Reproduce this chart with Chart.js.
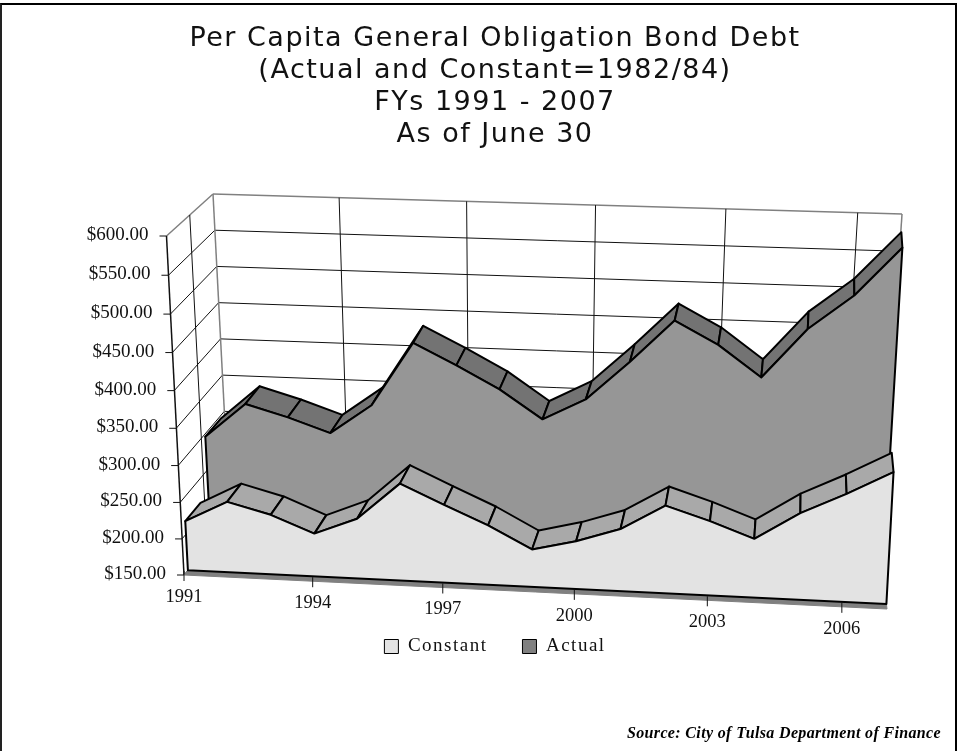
<!DOCTYPE html>
<html>
<head>
<meta charset="utf-8">
<title>Per Capita General Obligation Bond Debt</title>
<style>
    html, body { margin: 0; padding: 0; background: #fff; }
    #frame { position: absolute; left: 0; top: 3px; width: 953px; height: 746px; border-top: 2px solid #000; border-left: 2px solid #222; border-right: 2px solid #000; }
    canvas { position: absolute; left: 0; top: 0; }
</style>
<script src="https://cdn.jsdelivr.net/npm/chart.js@4"></script>
</head>
<body>
<div id="frame"></div>
<canvas id="chart" width="958" height="751"></canvas>
<script>
const titleLines = ['Per Capita General Obligation Bond Debt', '(Actual and Constant=1982/84)', 'FYs 1991 - 2007', 'As of June 30'];
const sourceNote = 'Source: City of Tulsa Department of Finance';

const years = ['1991', '1992', '1993', '1994', '1995', '1996', '1997', '1998', '1999', '2000', '2001', '2002', '2003', '2004', '2005', '2006', '2007'];
const constantValues = [218, 247, 232, 209, 232, 282, 256, 231, 201, 215, 234, 268, 250, 229, 266, 294, 325];
const actualValues = [296, 343, 327, 308, 348, 434, 406, 376, 338, 367, 419, 476, 446, 405, 471, 517, 581];

const valueTicks = [150, 200, 250, 300, 350, 400, 450, 500, 550, 600];
const yearTicks = ['1991', '1994', '1997', '2000', '2003', '2006'];

// Screen corners of the 3-D box, [x, y]. Depth 0 is the front, depth 1 the back wall
const BOX = {
    frontLeftBottom: [184, 575], frontLeftTop: [166.5, 236],
    frontRightBottom: [887, 609], frontRightTop: [905, 260],
    backLeftBottom: [230, 520], backLeftTop: [213, 194],
    backRightBottom: [880, 549], backRightTop: [902, 214]
};
const PERSPECTIVE = 1.03; // right side is nearer to the viewer
const FRONT_BEND = 16; // value spacing on the front edge is wider at the top

// Depth band of each series, front to back
const SERIES_DEPTH = [[0.085, 0.415], [0.585, 0.915]];
const SERIES_COLORS = [
    { face: '#e3e3e3', top: '#a9a9a9' },
    { face: '#969696', top: '#737373' }
];

const mix = (a, b, k) => [a[0] + (b[0] - a[0]) * k, a[1] + (b[1] - a[1]) * k];

function project(chart, px, py, depth) {
    const area = chart.chartArea;
    const t = (px - area.left) / area.width;
    const f = (area.bottom - py) / area.height;
    const s = t / (t + (1 - t) * PERSPECTIVE);

    const frontLeft = mix(BOX.frontLeftBottom, BOX.frontLeftTop, f);
    const frontRight = mix(BOX.frontRightBottom, BOX.frontRightTop, f);
    const backLeft = mix(BOX.backLeftBottom, BOX.backLeftTop, f);
    const backRight = mix(BOX.backRightBottom, BOX.backRightTop, f);
    const p = mix(mix(frontLeft, frontRight, s), mix(backLeft, backRight, s), depth);
    p[1] += (1 - depth) * FRONT_BEND * f * (1 - f);
    return p;
}

function segment(ctx, a, b, color, width) {
    ctx.beginPath();
    ctx.moveTo(a[0], a[1]);
    ctx.lineTo(b[0], b[1]);
    ctx.strokeStyle = color;
    ctx.lineWidth = width;
    ctx.stroke();
}

function polygon(ctx, pts, fill, stroke, width) {
    ctx.beginPath();
    pts.forEach((p, i) => i ? ctx.lineTo(p[0], p[1]) : ctx.moveTo(p[0], p[1]));
    ctx.closePath();
    ctx.fillStyle = fill;
    ctx.fill();
    ctx.lineJoin = 'round';
    ctx.strokeStyle = stroke;
    ctx.lineWidth = width;
    ctx.stroke();
}

// Walls, gridlines and axis labels, behind the series
const cagePlugin = {
    id: 'cage',
    beforeUpdate(chart) {
        // title and legend text is spaced out in the original
        chart.ctx.letterSpacing = '1.5px';
    },
    beforeDatasetsDraw(chart) {
        const { ctx, scales: { x, y } } = chart;
        const left = x.getPixelForValue(0);
        const right = x.getPixelForValue(years.length - 1);
        const bottom = y.getPixelForValue(150);
        const top = y.getPixelForValue(600);
        ctx.letterSpacing = '0px';
        ctx.save();

        // value gridlines round the side and back walls
        valueTicks.forEach(v => {
            const py = y.getPixelForValue(v);
            const front = project(chart, left, py, 0);
            const back = project(chart, left, py, 1);
            const edge = v === 600 ? '#808080' : '#111';
            segment(ctx, front, back, edge, v === 600 ? 1.5 : 1);
            segment(ctx, back, project(chart, right, py, 1), edge, v === 600 ? 1.5 : 1);
            segment(ctx, [front[0] - 7, front[1]], front, '#111', 1);

            ctx.font = '19px "Liberation Serif"';
            ctx.fillStyle = '#111';
            ctx.textAlign = 'right';
            ctx.textBaseline = 'middle';
            ctx.fillText('$' + v.toFixed(2), front[0] - 18, front[1] - 1);
        });

        // year gridlines on the back wall
        yearTicks.forEach((yr, i) => {
            const px = x.getPixelForValue(years.indexOf(yr));
            if (i > 0) segment(ctx, project(chart, px, bottom, 1), project(chart, px, top, 1), '#111', 1);
        });

        // corner edges and the mid-depth line on the side wall
        segment(ctx, project(chart, left, bottom, 0), project(chart, left, top, 0), '#111', 1.5);
        segment(ctx, project(chart, left, bottom, 0.5), project(chart, left, top, 0.5), '#111', 1);
        segment(ctx, project(chart, left, bottom, 1), project(chart, left, top, 1), '#808080', 1.5);
        segment(ctx, project(chart, right, bottom, 1), project(chart, right, top, 1), '#808080', 1.5);

        // floor plate
        polygon(ctx, [
            project(chart, left, bottom, 0), project(chart, right, bottom, 0),
            project(chart, right, bottom, 1), project(chart, left, bottom, 1)
        ], '#808080', '#808080', 1);

        // year ticks and labels
        yearTicks.forEach(yr => {
            const px = x.getPixelForValue(years.indexOf(yr));
            const p = project(chart, px, bottom, 0);
            segment(ctx, [p[0], p[1] - 4], [p[0], p[1] + 6], '#111', 1);
            ctx.font = '18.5px "Liberation Serif"';
            ctx.fillStyle = '#111';
            ctx.textAlign = 'center';
            ctx.textBaseline = 'middle';
            ctx.fillText(yr, p[0], p[1] + 22);
        });
        ctx.restore();
    },
    afterDraw(chart) {
        const { ctx } = chart;
        ctx.save();
        ctx.font = 'italic bold 16px "Liberation Serif"';
        ctx.letterSpacing = '0.35px';
        ctx.fillStyle = '#000';
        ctx.textAlign = 'right';
        ctx.textBaseline = 'middle';
        ctx.fillText(sourceNote, 941, 734);
        ctx.letterSpacing = '0px';
        ctx.restore();
    }
};

// The series as slabs: top strip per year first, then the front face
const slabPlugin = {
    id: 'slabs',
    beforeDatasetsDraw(chart) {
        const { ctx, scales: { y } } = chart;
        const bottom = y.getPixelForValue(150);
        ctx.save();
        for (let d = chart.data.datasets.length - 1; d >= 0; d--) {
            const pts = chart.getDatasetMeta(d).data;
            const [near, far] = SERIES_DEPTH[d];
            const colors = SERIES_COLORS[d];
            const front = pts.map(p => project(chart, p.x, p.y, near));
            const back = pts.map(p => project(chart, p.x, p.y, far));

            for (let i = 0; i < front.length - 1; i++) {
                polygon(ctx, [front[i], front[i + 1], back[i + 1], back[i]], colors.top, '#000', 2);
            }
            const base = [project(chart, pts[pts.length - 1].x, bottom, near), project(chart, pts[0].x, bottom, near)];
            polygon(ctx, front.concat(base), colors.face, '#000', 2);
        }
        ctx.restore();
    }
};

new Chart(document.getElementById('chart'), {
    type: 'line',
    data: {
        labels: years,
        datasets: [
            { label: 'Constant', data: constantValues, backgroundColor: '#e3e3e3', borderColor: '#000', borderWidth: 1, showLine: false, pointRadius: 0 },
            { label: 'Actual', data: actualValues, backgroundColor: '#808080', borderColor: '#000', borderWidth: 1, showLine: false, pointRadius: 0 }
        ]
    },
    options: {
        responsive: false,
        animation: false,
        layout: { padding: { left: 32, top: 6, bottom: 85 } },
        scales: {
            x: { type: 'category', display: false },
            y: { type: 'linear', min: 150, max: 600, display: false }
        },
        plugins: {
            tooltip: { enabled: false },
            title: {
                display: true,
                text: titleLines,
                color: '#111',
                font: { family: '"DejaVu Sans"', size: 27, weight: 'normal', lineHeight: 1.185 },
                padding: { top: 17, bottom: 10 }
            },
            legend: {
                position: 'bottom',
                labels: {
                    color: '#111',
                    font: { family: '"Liberation Serif"', size: 19 },
                    boxWidth: 14,
                    boxHeight: 14,
                    padding: 35
                }
            }
        }
    },
    plugins: [cagePlugin, slabPlugin]
});
</script>
</body>
</html>
